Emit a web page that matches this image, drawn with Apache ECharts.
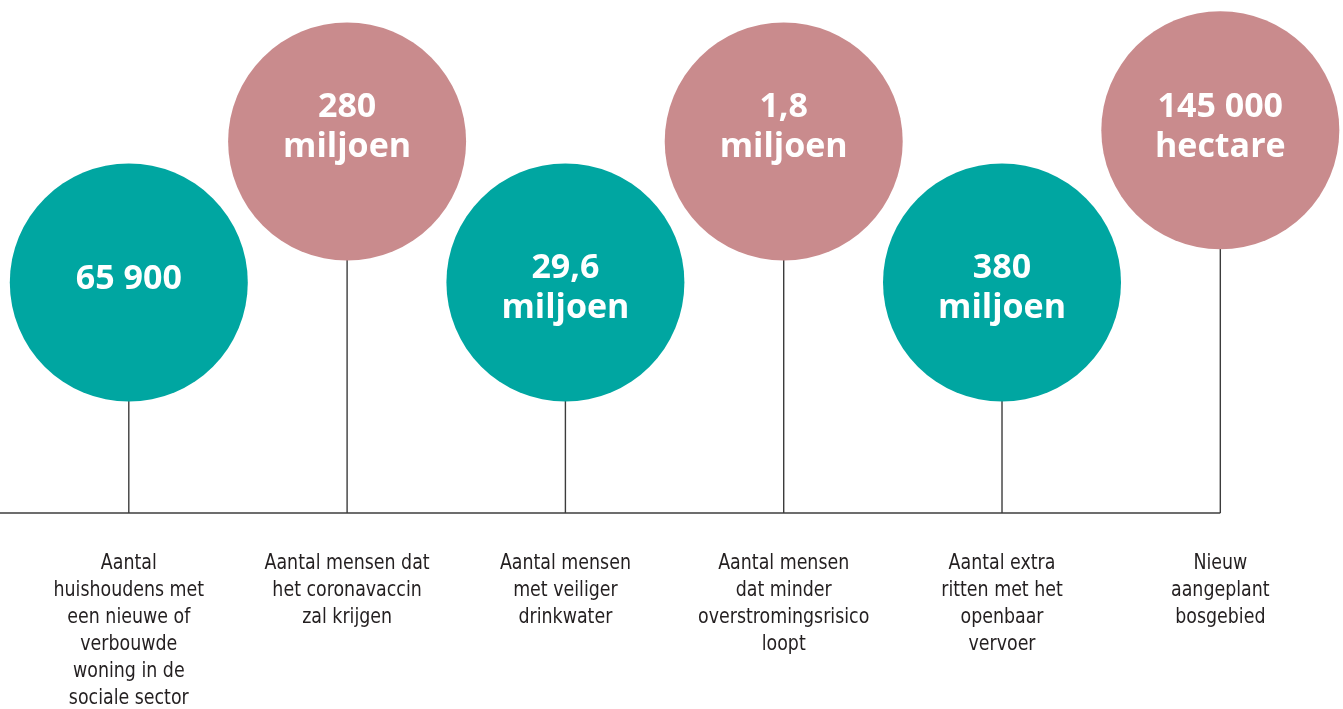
<!DOCTYPE html>
<html><head><meta charset="utf-8">
<script src="https://cdn.jsdelivr.net/npm/echarts@6/dist/echarts.min.js"></script>
<style>html,body{margin:0;padding:0;background:#fff}#c{width:1343px;height:709px}</style>
</head><body><div id="c"></div>
<script>
// Data
const values = ['65 900', '280\nmiljoen', '29,6\nmiljoen', '1,8\nmiljoen', '380\nmiljoen', '145 000\nhectare'];
const descriptions = [
  'Aantal\nhuishoudens met\neen nieuwe of\nverbouwde\nwoning in de\nsociale sector',
  'Aantal mensen dat\nhet coronavaccin\nzal krijgen',
  'Aantal mensen\nmet veiliger\ndrinkwater',
  'Aantal mensen\ndat minder\noverstromingsrisico\nloopt',
  'Aantal extra\nritten met het\nopenbaar\nvervoer',
  'Nieuw\naangeplant\nbosgebied'
];
const levels = [1, 2, 1, 2, 1, 2.08];
const colors = ['#00A6A1', '#C98B8D'];

const BASE = -0.635;
const X_MIN = -0.590, X_MAX = 5.562;
const Y_MIN = -2.025, Y_MAX = 3.004;

const chart = echarts.init(document.getElementById('c'));
const items = values.map((v, i) => [i, levels[i]]);

chart.setOption({
  animation: false,
  grid: { left: 0, right: 0, top: 0, bottom: 0 },
  xAxis: { type: 'value', min: X_MIN, max: X_MAX, show: false },
  yAxis: { type: 'value', min: Y_MIN, max: Y_MAX, show: false },
  series: [
    {
      type: 'line',
      data: [[X_MIN, BASE], [values.length - 1, BASE]],
      symbol: 'none',
      lineStyle: { color: '#3c3c3c', width: 1.4 },
      z: 1
    },
    {
      type: 'custom',
      data: items,
      z: 2,
      renderItem: function (params, api) {
        const i = api.value(0), lv = api.value(1);
        const idx = params.dataIndex;
        const top = api.coord([i, lv]);
        const bot = api.coord([i, BASE]);
        const tier = Math.round(lv);
        const anchor = api.coord([i, tier]);
        const twoLine = values[idx].indexOf('\n') >= 0;
        const dy = tier === 2 ? -14 : (twoLine ? 6 : -3);
        const r = 119;
        return {
          type: 'group',
          children: [
            { type: 'line', shape: { x1: bot[0], y1: bot[1], x2: top[0], y2: top[1] },
              style: { stroke: '#3c3c3c', lineWidth: 1.4 } },
            { type: 'circle', shape: { cx: top[0], cy: top[1], r: r },
              style: { fill: colors[tier - 1] } },
            { type: 'text', x: anchor[0], y: anchor[1] + dy,
              style: { text: values[idx], fill: '#fff', align: 'center', verticalAlign: 'middle',
                font: 'bold 34px "Open Sans", "Noto Sans", sans-serif', lineHeight: 40 } },
            { type: 'text', x: bot[0], y: bot[1] + 37, scaleX: 0.88,
              style: { text: descriptions[idx], fill: '#231f20', align: 'center', verticalAlign: 'top',
                font: '22px "DejaVu Sans Condensed", "Liberation Sans Narrow", sans-serif', lineHeight: 27 } }
          ]
        };
      }
    }
  ]
});
</script></body></html>
